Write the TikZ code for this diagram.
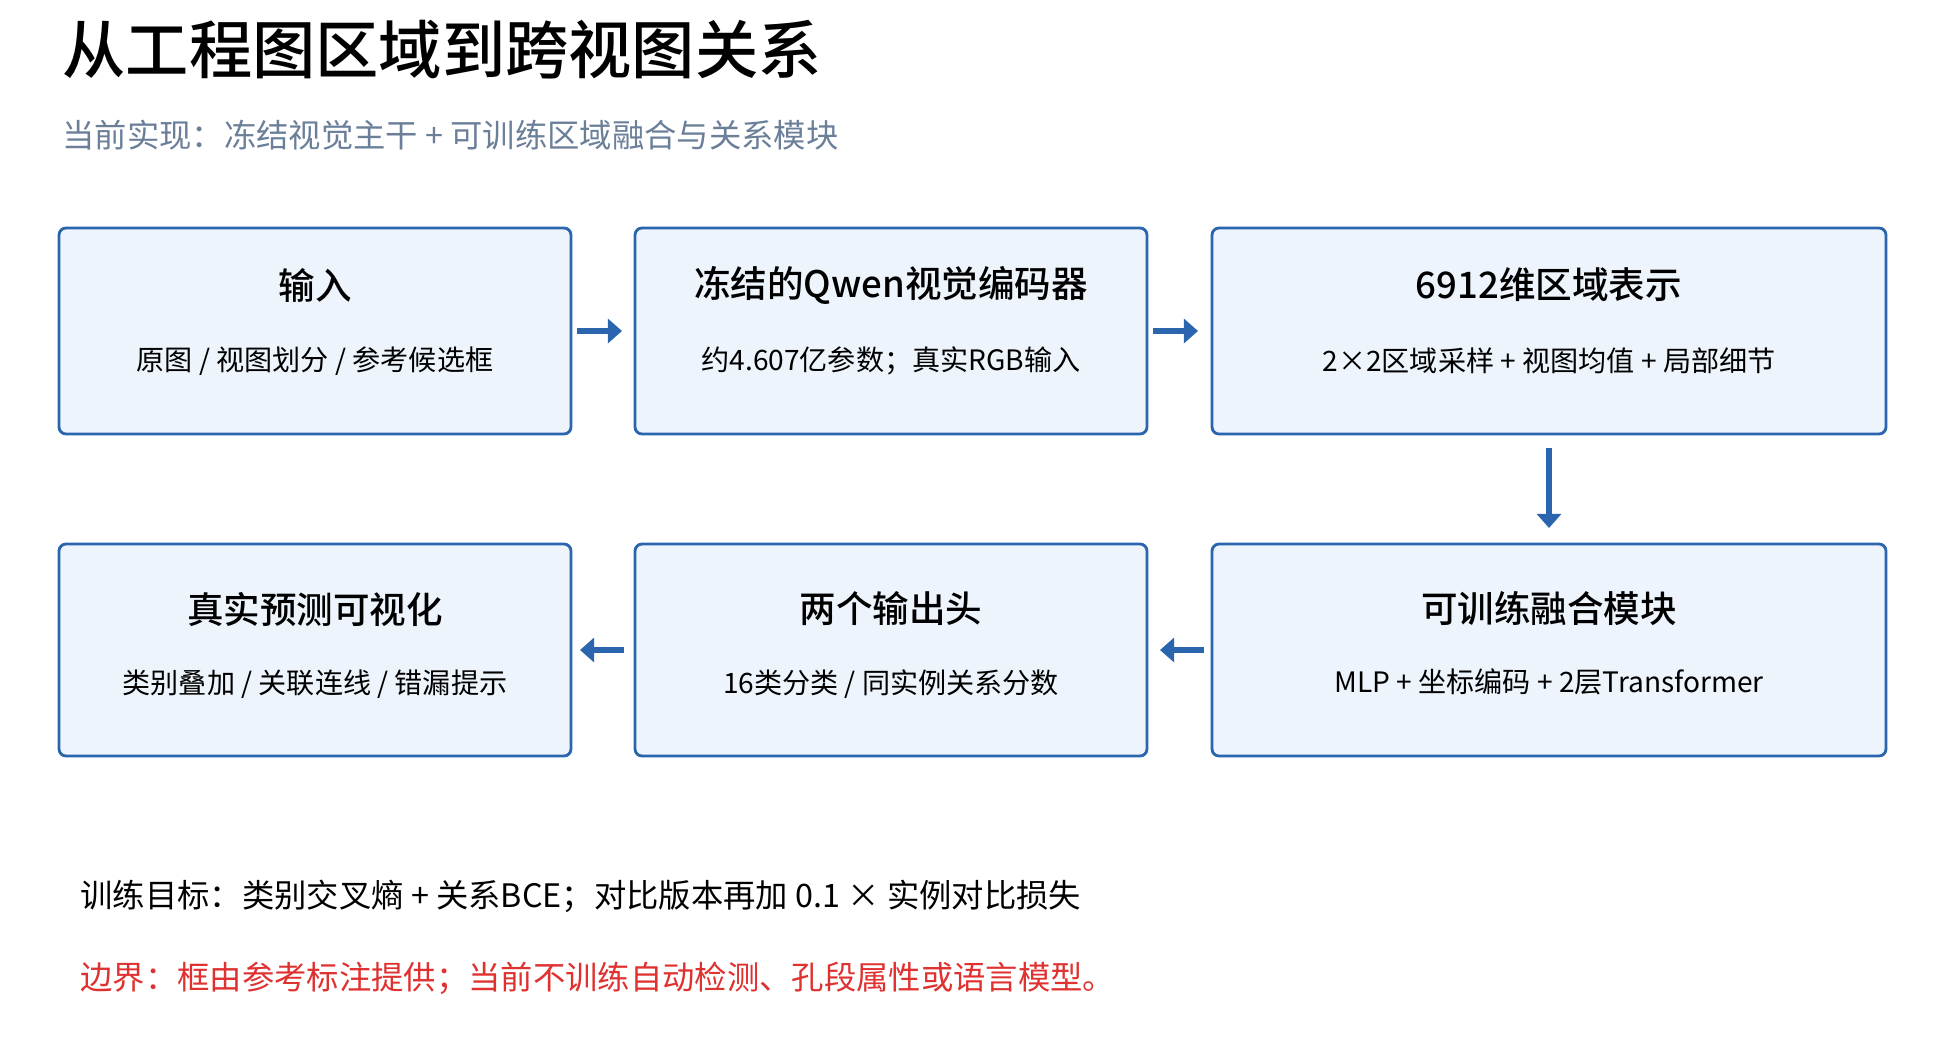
\documentclass[tikz,border=0pt]{standalone}
\usepackage{fontspec}
\setmainfont{Noto Sans CJK SC}
\newfontfamily\medf{Noto Sans CJK SC Medium}
\usetikzlibrary{arrows.meta}
\definecolor{bd}{HTML}{2A65AD}
\definecolor{bf}{HTML}{EDF4FC}
\definecolor{sub}{HTML}{6B7F99}
\definecolor{rd}{HTML}{E03131}
\begin{document}
\begin{tikzpicture}[x=0.05cm,y=-0.05cm,
 box/.style={draw=bd,fill=bf,line width=4pt,rounded corners=10pt},
 bt/.style={font=\medf\fontsize{52}{60}\selectfont,anchor=center},
 bs/.style={font=\fontsize{40}{48}\selectfont,anchor=center},
 ar/.style={draw=bd,line width=8pt,-{Triangle[length=20pt,width=34pt]}}]
\useasboundingbox[fill=white] (0,0) rectangle (1952,1062);
\node[anchor=west,font=\medf\fontsize{90}{100}\selectfont] (t) at (60,50) {从工程图区域到跨视图关系};
\node[anchor=west,text=sub,font=\fontsize{46}{54}\selectfont] (s) at (60,135) {当前实现：冻结视觉主干 + 可训练区域融合与关系模块};
\path[box] (59,228) rectangle (571,434);
\path[box] (635,228) rectangle (1147,434);
\path[box] (1212,228) rectangle (1886,434);
\path[box] (59,544) rectangle (571,756);
\path[box] (635,544) rectangle (1147,756);
\path[box] (1212,544) rectangle (1886,756);
\node[bt] (a1) at (315,285) {输入};
\node[bs] (a2) at (315,361) {原图 / 视图划分 / 参考候选框};
\node[bt] (b1t) at (891,285) {冻结的Qwen视觉编码器};
\node[bs] (b2) at (891,361) {约4.607亿参数；真实RGB输入};
\node[bt] (c1) at (1549,285) {6912维区域表示};
\node[bs] (c2) at (1549,361) {2×2区域采样 + 视图均值 + 局部细节};
\node[bt] (d1) at (315,609) {真实预测可视化};
\node[bs] (d2) at (315,684) {类别叠加 / 关联连线 / 错漏提示};
\node[bt] (e1) at (891,609) {两个输出头};
\node[bs] (e2) at (891,684) {16类分类 / 同实例关系分数};
\node[bt] (f1) at (1549,609) {可训练融合模块};
\node[bs] (f2) at (1549,682) {MLP + 坐标编码 + 2层Transformer};
\coordinate (p1) at (577,331); \coordinate (q1) at (622,331);
\coordinate (p2) at (1153,331); \coordinate (q2) at (1198,331);
\coordinate (p3) at (1549,448); \coordinate (q3) at (1549,528);
\coordinate (p4) at (1204,650); \coordinate (q4) at (1160,650);
\coordinate (p5) at (624,650); \coordinate (q5) at (580,650);
\draw[ar] (p1) -- (q1); \draw[ar] (p2) -- (q2); \draw[ar] (p3) -- (q3);
\draw[ar] (p4) -- (q4); \draw[ar] (p5) -- (q5);
\node[anchor=west,font=\fontsize{46}{54}\selectfont] (l1) at (78,896) {训练目标：类别交叉熵 + 关系BCE；对比版本再加 0.1 × 实例对比损失};
\node[anchor=west,text=rd,font=\fontsize{46}{54}\selectfont] (l2) at (78,978) {边界：框由参考标注提供；当前不训练自动检测、孔段属性或语言模型。};
\end{tikzpicture}
\end{document}
